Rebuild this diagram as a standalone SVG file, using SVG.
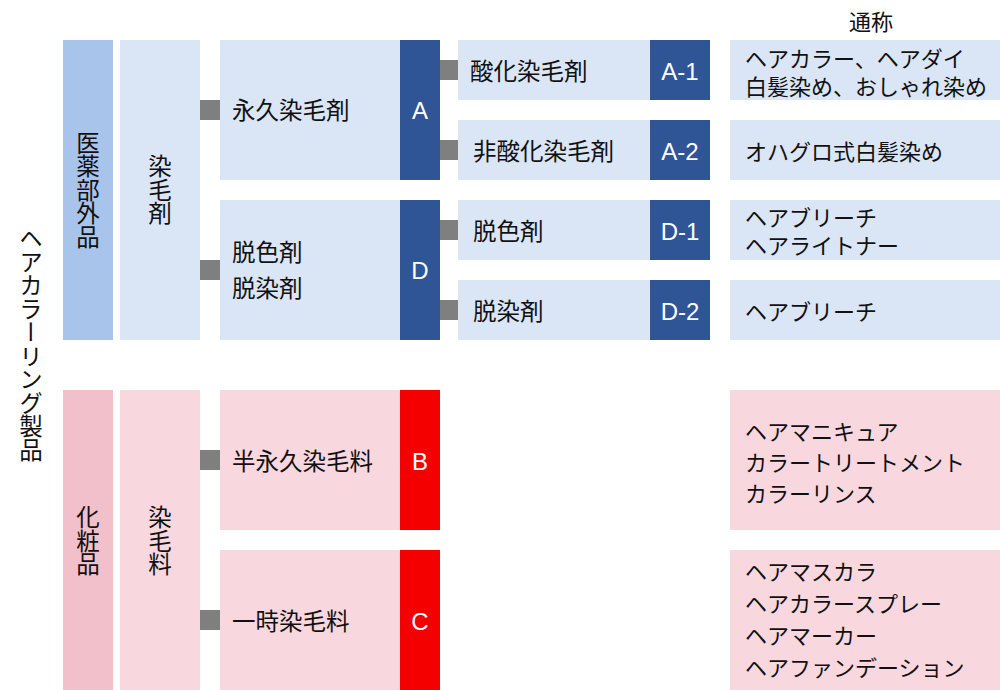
<svg xmlns="http://www.w3.org/2000/svg" width="1000" height="690" viewBox="0 0 1000 690">
<style>
text{font-family:"Noto Sans CJK JP","Noto Sans",sans-serif;fill:#111;dominant-baseline:central}
.l{font-size:23.5px}
.r{font-size:22px}
.v{font-size:23.5px;writing-mode:vertical-rl;text-anchor:middle}
.w{fill:#fff;font-family:"Liberation Sans","Noto Sans",sans-serif;font-size:24px;text-anchor:middle}
.b1{fill:#a9c4eb}.b2{fill:#dae5f6}.b3{fill:#2f5597}
.p1{fill:#f2c0cb}.p2{fill:#f8d7df}.p3{fill:#f50000}
.c{fill:#7f7f7f}
</style>
<g id="title"><text class="v" x="31" y="344">ヘアカラーリング製品</text></g>
<g id="tsusho"><text class="r" x="871" y="20" text-anchor="middle">通称</text></g>
<g id="iyakubugaihin"><rect class="b1" x="63" y="40" width="50" height="300"/><text class="v" x="88" y="190">医薬部外品</text></g>
<g id="senmozai"><rect class="b2" x="120" y="40" width="80" height="300"/><text class="v" x="160" y="190">染毛剤</text></g>
<g id="keshohin"><rect class="p1" x="63" y="390" width="50" height="300"/><text class="v" x="88" y="541">化粧品</text></g>
<g id="senmoryo"><rect class="p2" x="120" y="390" width="80" height="300"/><text class="v" x="160" y="541">染毛料</text></g>
<g id="nodeA"><rect class="b2" x="220" y="40" width="180" height="140"/><text class="l" x="232" y="109">永久染毛剤</text><rect class="b3" x="400" y="40" width="40" height="140"/><text class="w" x="420" y="110">A</text></g>
<g id="nodeD"><rect class="b2" x="220" y="200" width="180" height="140"/><text class="l" x="232" y="251">脱色剤</text><text class="l" x="232" y="287">脱染剤</text><rect class="b3" x="400" y="200" width="40" height="140"/><text class="w" x="420" y="270">D</text></g>
<g id="nodeB"><rect class="p2" x="220" y="390" width="180" height="140"/><text class="l" x="232" y="460">半永久染毛料</text><rect class="p3" x="400" y="390" width="40" height="140"/><text class="w" x="420" y="461">B</text></g>
<g id="nodeC"><rect class="p2" x="220" y="550" width="180" height="140"/><text class="l" x="232" y="620">一時染毛料</text><rect class="p3" x="400" y="550" width="40" height="140"/><text class="w" x="420" y="621">C</text></g>
<g id="nodeA1"><rect class="b2" x="458" y="40" width="192" height="60"/><text class="l" x="470" y="70">酸化染毛剤</text><rect class="b3" x="650" y="40" width="60" height="60"/><text class="w" x="680" y="71">A-1</text></g>
<g id="nodeA2"><rect class="b2" x="458" y="120" width="192" height="60"/><text class="l" x="473" y="150">非酸化染毛剤</text><rect class="b3" x="650" y="120" width="60" height="60"/><text class="w" x="680" y="151">A-2</text></g>
<g id="nodeD1"><rect class="b2" x="458" y="200" width="192" height="60"/><text class="l" x="473" y="230">脱色剤</text><rect class="b3" x="650" y="200" width="60" height="60"/><text class="w" x="680" y="231">D-1</text></g>
<g id="nodeD2"><rect class="b2" x="458" y="280" width="192" height="60"/><text class="l" x="473" y="310">脱染剤</text><rect class="b3" x="650" y="280" width="60" height="60"/><text class="w" x="680" y="311">D-2</text></g>
<g id="nameA1"><rect class="b2" x="730" y="40" width="270" height="60"/><text class="r" x="745" y="57">ヘアカラー、ヘアダイ</text><text class="r" x="745" y="85">白髪染め、おしゃれ染め</text></g>
<g id="nameA2"><rect class="b2" x="730" y="120" width="270" height="60"/><text class="r" x="745" y="150">オハグロ式白髪染め</text></g>
<g id="nameD1"><rect class="b2" x="730" y="200" width="270" height="60"/><text class="r" x="745" y="216">ヘアブリーチ</text><text class="r" x="745" y="244">ヘアライトナー</text></g>
<g id="nameD2"><rect class="b2" x="730" y="280" width="270" height="60"/><text class="r" x="745" y="310">ヘアブリーチ</text></g>
<g id="nameB"><rect class="p2" x="730" y="390" width="270" height="140"/><text class="r" x="745" y="430">ヘアマニキュア</text><text class="r" x="745" y="461">カラートリートメント</text><text class="r" x="745" y="492">カラーリンス</text></g>
<g id="nameC"><rect class="p2" x="730" y="550" width="270" height="140"/><text class="r" x="745" y="570">ヘアマスカラ</text><text class="r" x="745" y="602">ヘアカラースプレー</text><text class="r" x="745" y="634">ヘアマーカー</text><text class="r" x="745" y="666">ヘアファンデーション</text></g>
<g id="connectors">
<rect class="c" x="200" y="100" width="20" height="20"/>
<rect class="c" x="200" y="260" width="20" height="20"/>
<rect class="c" x="200" y="450" width="20" height="20"/>
<rect class="c" x="200" y="610" width="20" height="20"/>
<rect class="c" x="440" y="60" width="18" height="20"/>
<rect class="c" x="440" y="140" width="18" height="20"/>
<rect class="c" x="440" y="220" width="18" height="20"/>
<rect class="c" x="440" y="300" width="18" height="20"/>
</g>
</svg>
